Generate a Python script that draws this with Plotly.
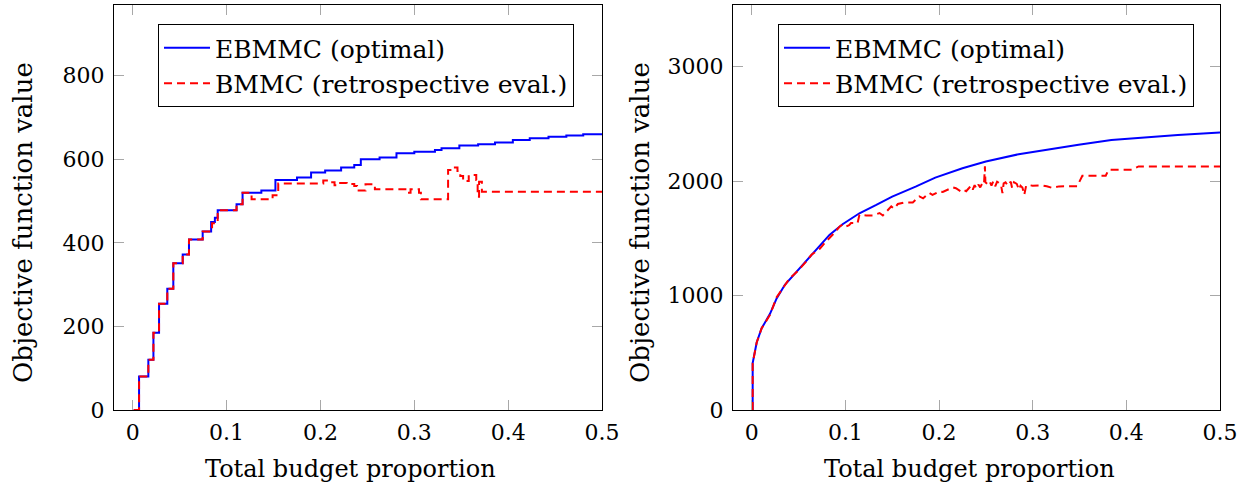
import plotly.graph_objects as go

# ---------------- data ----------------
# Left panel: step curves
left_opt_x = [0.001, 0.0067, 0.0166, 0.022, 0.028, 0.0368, 0.0432, 0.0532, 0.0599, 0.0745,
              0.0835, 0.0875, 0.0905, 0.1106, 0.117, 0.137, 0.152, 0.175, 0.19, 0.205,
              0.222, 0.236, 0.243, 0.263, 0.281, 0.30, 0.322, 0.329, 0.348, 0.368,
              0.386, 0.405, 0.423, 0.443, 0.462, 0.48, 0.5]
left_opt_y = [0, 80, 120, 185, 254, 290, 351, 372, 408, 427,
              450, 460, 478, 492, 520, 525, 550, 556, 568, 573,
              580, 586, 600, 604, 614, 618, 622, 626, 633, 636,
              640, 646, 650, 654, 657, 660, 660]

left_retro_x = [0.001, 0.0067, 0.0166, 0.022, 0.028, 0.0368, 0.0432, 0.0532, 0.0599, 0.0745,
                0.0845, 0.0905, 0.1106, 0.117, 0.1266, 0.149, 0.155, 0.203, 0.209, 0.215,
                0.221, 0.228, 0.236, 0.239, 0.248, 0.258, 0.293, 0.296, 0.305, 0.307,
                0.336, 0.340, 0.346, 0.349, 0.352, 0.358, 0.366, 0.3675, 0.369, 0.372, 0.5]
left_retro_y = [0, 80, 120, 185, 254, 290, 351, 372, 408, 427,
                447, 478, 492, 520, 504, 514, 542, 549, 545, 538,
                543, 541, 536, 525, 540, 528, 520, 528, 520, 504,
                574, 580, 572, 560, 548, 562, 550, 510, 546, 522, 522]

# Right panel
right_opt_x = [0.001, 0.001, 0.0053, 0.0106, 0.0195, 0.0266, 0.0354, 0.0479, 0.0638, 0.0727,
               0.083, 0.097, 0.115, 0.133, 0.15, 0.175, 0.196, 0.225, 0.25, 0.285,
               0.313, 0.349, 0.384, 0.42, 0.455, 0.5]
right_opt_y = [0, 410, 590, 714, 840, 975, 1094, 1210, 1356, 1442,
               1530, 1623, 1719, 1792, 1865, 1952, 2031, 2113, 2171, 2235,
               2273, 2317, 2360, 2383, 2404, 2424]

right_retro_x = [0.001, 0.001, 0.0053, 0.0106, 0.0195, 0.0266, 0.0354, 0.0407, 0.048, 0.052,
                 0.0585, 0.0638, 0.068, 0.0727, 0.078, 0.083, 0.088, 0.091, 0.094, 0.097,
                 0.100, 0.104, 0.106, 0.113, 0.115, 0.1223, 0.129, 0.1365, 0.14, 0.149,
                 0.152, 0.156, 0.163, 0.172, 0.179, 0.183, 0.1897, 0.193, 0.2003, 0.204,
                 0.2145, 0.218, 0.2234, 0.226, 0.229, 0.232, 0.234, 0.236, 0.238, 0.240,
                 0.242, 0.244, 0.2464, 0.248, 0.249, 0.2495, 0.2517, 0.254, 0.256, 0.258,
                 0.260, 0.262, 0.264, 0.266, 0.2677, 0.269, 0.271, 0.2735, 0.2766, 0.278,
                 0.280, 0.283, 0.2854, 0.287, 0.289, 0.291, 0.293, 0.296, 0.300, 0.310,
                 0.315, 0.321, 0.328, 0.340, 0.3475, 0.353, 0.378, 0.381, 0.406, 0.413, 0.5]
right_retro_y = [0, 408, 590, 714, 831, 985, 1090, 1152, 1205, 1240,
                 1300, 1356, 1380, 1410, 1460, 1500, 1546, 1575, 1604, 1620,
                 1600, 1615, 1633, 1633, 1706, 1700, 1700, 1721, 1700, 1779,
                 1760, 1800, 1814, 1814, 1866, 1850, 1896, 1880, 1910, 1905,
                 1945, 1938, 1910, 1925, 1912, 1940, 1960, 1925, 1965, 1935,
                 1970, 1945, 1985, 1975, 2129, 1990, 1975, 1998, 1960, 2000,
                 1955, 1995, 1985, 1975, 1895, 1980, 1990, 1960, 1995, 1940,
                 1990, 1975, 1925, 1960, 1945, 1880, 1960, 1965, 1960, 1962,
                 1955, 1940, 1954, 1952, 1955, 2047, 2047, 2100, 2100, 2128, 2128]

x_ticks = [0, 0.1, 0.2, 0.3, 0.4, 0.5]
x_tick_text = ["0", "0.1", "0.2", "0.3", "0.4", "0.5"]
left_y_ticks = [0, 200, 400, 600, 800]
right_y_ticks = [0, 1000, 2000, 3000]

name_opt = "EBMMC (optimal)"
name_retro = "BMMC (retrospective eval.)"
x_title = "Total budget proportion"
y_title = "Objective function value"

# ---------------- figure ----------------
W, H = 1251, 489
FONT = "DejaVu Serif"
BLUE = "#0000ff"
RED = "#ff0000"

fig = go.Figure()
fig.add_trace(go.Scatter(x=left_opt_x, y=left_opt_y, mode="lines", line_shape="hv",
                         line=dict(color=BLUE, width=2), name=name_opt,
                         xaxis="x", yaxis="y", legend="legend"))
fig.add_trace(go.Scatter(x=left_retro_x, y=left_retro_y, mode="lines", line_shape="hv",
                         line=dict(color=RED, width=2, dash="8px,5px"), name=name_retro,
                         xaxis="x", yaxis="y", legend="legend"))
fig.add_trace(go.Scatter(x=right_opt_x, y=right_opt_y, mode="lines",
                         line=dict(color=BLUE, width=2), name=name_opt,
                         xaxis="x2", yaxis="y2", legend="legend2"))
fig.add_trace(go.Scatter(x=right_retro_x, y=right_retro_y, mode="lines",
                         line=dict(color=RED, width=2, dash="8px,5px"), name=name_retro,
                         xaxis="x2", yaxis="y2", legend="legend2"))

ydom = [1 - 410 / H, 1 - 5 / H]
axis_common = dict(showline=True, linecolor="black", linewidth=1, mirror="ticks",
                   ticks="inside", ticklen=10, tickcolor="#a8a8a8", tickwidth=1.3,
                   showgrid=False, zeroline=False, automargin=False,
                   tickfont=dict(family=FONT, size=22, color="black"))
xaxis_common = dict(axis_common, ticklabelstandoff=3)
yaxis_common = dict(axis_common, ticklabelstandoff=4)

legend_common = dict(xanchor="left", yanchor="top", bgcolor="white",
                     bordercolor="black", borderwidth=1, itemwidth=46,
                     font=dict(family=FONT, size=25, color="black"))

fig.update_layout(
    width=W, height=H, paper_bgcolor="white", plot_bgcolor="white",
    margin=dict(l=0, r=0, t=0, b=0, autoexpand=False),
    xaxis=dict(domain=[114 / W, 602 / W], range=[-0.02, 0.5], tickvals=x_ticks,
               ticktext=x_tick_text, anchor="y", **xaxis_common),
    yaxis=dict(domain=ydom, range=[0, 969], tickvals=left_y_ticks, anchor="x", **yaxis_common),
    xaxis2=dict(domain=[733 / W, 1220 / W], range=[-0.02, 0.5], tickvals=x_ticks,
                ticktext=x_tick_text, anchor="y2", **xaxis_common),
    yaxis2=dict(domain=ydom, range=[0, 3539], tickvals=right_y_ticks, anchor="x2", **yaxis_common),
    legend=dict(x=158 / W, y=1 - 24 / H, **legend_common),
    legend2=dict(x=778 / W, y=1 - 24 / H, **legend_common),
)

for cx in (350, 969):
    fig.add_annotation(text=x_title, xref="paper", yref="paper", x=cx / W, y=1 - 469 / H,
                       xanchor="center", yanchor="middle", showarrow=False,
                       font=dict(family=FONT, size=24, color="black"))
for cx in (23, 640):
    fig.add_annotation(text=y_title, xref="paper", yref="paper", x=cx / W, y=1 - 223 / H,
                       xanchor="center", yanchor="middle", showarrow=False,
                       font=dict(family=FONT, size=26, color="black"), textangle=-90)

fig.write_html("out.html", config={"displayModeBar": False},
               post_script="document.body.style.margin='0px';document.body.style.overflow='hidden';")
